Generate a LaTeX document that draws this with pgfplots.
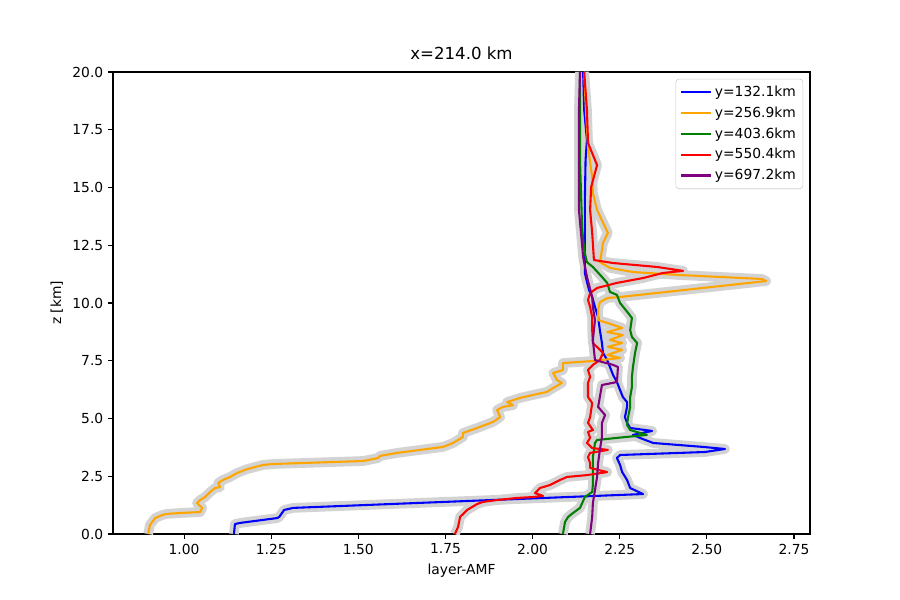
\documentclass[border=0pt]{standalone}
\usepackage{fontspec}
\setmainfont{DejaVu Sans}
\usepackage{pgfplots}
\pgfplotsset{compat=1.18}
\usepackage{pgfplotstable}

\definecolor{mblue}{RGB}{0,0,255}
\definecolor{morange}{RGB}{255,165,0}
\definecolor{mgreen}{RGB}{0,128,0}
\definecolor{mred}{RGB}{255,0,0}
\definecolor{mpurple}{RGB}{128,0,128}
\definecolor{band}{RGB}{211,211,211}

% layer-AMF profiles, columns: AMF, altitude (km)
\pgfplotstableread{
x z
1.143 0
1.146 0.43
1.161 0.48
1.267 0.69
1.273 0.74
1.287 1.04
1.313 1.13
2.317 1.73
2.280 1.99
2.271 2.34
2.257 2.68
2.251 2.99
2.242 3.29
2.251 3.42
2.495 3.55
2.552 3.68
2.489 3.77
2.346 3.94
2.308 4.16
2.288 4.29
2.343 4.46
2.280 4.59
2.271 4.81
2.265 5.06
2.271 5.50
2.271 5.71
2.259 5.93
2.251 6.23
2.242 6.58
2.231 6.88
2.222 7.23
2.214 7.53
2.202 7.84
2.199 8.27
2.193 8.83
2.188 9.39
2.179 9.83
2.171 10.26
2.162 10.56
2.156 10.91
2.150 11.30
2.150 11.86
2.150 14.46
2.152 16.19
2.156 17.06
2.148 18.35
2.145 20
}\tblue

\pgfplotstableread{
x z
0.897 0
0.902 0.39
0.917 0.69
0.937 0.82
0.951 0.87
0.989 0.91
1.046 0.95
1.052 1.13
1.037 1.34
1.046 1.47
1.060 1.60
1.075 1.82
1.089 1.99
1.103 2.03
1.098 2.21
1.112 2.34
1.132 2.47
1.152 2.64
1.181 2.81
1.227 2.99
1.255 3.03
1.514 3.16
1.557 3.29
1.562 3.38
1.611 3.51
1.743 3.77
1.772 3.94
1.786 4.07
1.800 4.20
1.800 4.37
1.841 4.59
1.886 4.85
1.907 5.06
1.898 5.37
1.915 5.50
1.944 5.58
1.927 5.71
1.964 5.89
2.001 6.02
2.041 6.15
2.059 6.32
2.084 6.54
2.070 6.67
2.059 6.97
2.087 7.10
2.087 7.40
2.173 7.49
2.251 7.62
2.214 7.75
2.257 7.97
2.216 8.10
2.257 8.27
2.222 8.40
2.259 8.61
2.214 8.74
2.257 8.92
2.216 9.13
2.188 9.26
2.188 9.70
2.193 10.04
2.216 10.22
2.251 10.26
2.670 10.95
2.658 11.04
2.423 11.21
2.288 11.34
2.222 11.52
2.193 11.77
2.196 11.99
2.202 12.60
2.216 13.03
2.185 14.03
2.173 14.76
2.171 15.45
2.159 16.75
2.153 18.35
2.148 20
}\torange

\pgfplotstableread{
x z
2.087 0
2.093 0.52
2.102 0.74
2.116 0.91
2.136 1.13
2.150 1.60
2.171 1.82
2.173 2.12
2.173 2.77
2.173 3.33
2.179 3.94
2.185 4.07
2.242 4.16
2.328 4.29
2.280 4.50
2.271 4.72
2.274 5.06
2.280 5.50
2.280 5.93
2.285 6.36
2.285 6.80
2.288 7.23
2.294 7.84
2.300 8.27
2.285 8.53
2.280 8.83
2.285 9.35
2.274 9.57
2.251 10.00
2.242 10.35
2.222 10.48
2.214 10.87
2.199 11.13
2.173 11.56
2.156 11.77
2.150 12.16
2.145 12.73
2.142 13.29
2.136 16.19
2.136 20
}\tgreen

\pgfplotstableread{
x z
1.777 0
1.786 0.30
1.792 0.74
1.812 1.04
1.841 1.30
1.858 1.39
1.898 1.47
1.955 1.56
2.001 1.60
2.030 1.65
2.007 1.77
2.021 1.99
2.050 2.12
2.079 2.34
2.099 2.47
2.156 2.55
2.214 2.68
2.165 2.86
2.165 3.07
2.159 3.33
2.165 3.51
2.216 3.64
2.171 3.72
2.156 3.94
2.165 4.16
2.159 4.42
2.173 4.50
2.159 4.81
2.165 5.06
2.171 5.67
2.159 5.93
2.159 6.54
2.165 6.80
2.159 7.10
2.173 7.32
2.193 7.53
2.202 7.84
2.188 8.05
2.173 8.27
2.171 8.83
2.171 9.39
2.165 9.83
2.159 10.13
2.165 10.43
2.185 10.65
2.242 10.87
2.317 11.08
2.374 11.30
2.432 11.39
2.357 11.56
2.231 11.73
2.176 11.86
2.171 13.03
2.165 14.03
2.168 15.02
2.185 15.97
2.159 16.93
2.156 18.35
2.148 20
}\tred

\pgfplotstableread{
x z
2.165 0
2.171 0.74
2.173 1.34
2.179 1.90
2.185 2.47
2.188 3.07
2.193 3.64
2.199 4.20
2.199 4.81
2.208 5.15
2.188 5.50
2.193 5.93
2.199 6.45
2.242 6.58
2.245 7.23
2.231 7.32
2.179 7.53
2.173 8.40
2.179 9.26
2.173 9.83
2.171 10.26
2.156 11.13
2.145 11.99
2.133 14.03
2.133 18.35
2.136 20
}\tpurple

\begin{document}
\begin{tikzpicture}
\begin{axis}[
  scale only axis,
  width=501.84bp, height=332.64bp,
  xmin=0.796, xmax=2.796, ymin=0, ymax=20,
  xtick={1,1.25,1.5,1.75,2,2.25,2.5,2.75},
  ytick={0,2.5,5,7.5,10,12.5,15,17.5,20},
  xticklabel style={/pgf/number format/.cd,fixed,fixed zerofill,precision=2},
  yticklabel style={/pgf/number format/.cd,fixed,fixed zerofill,precision=1},
  /pgf/number format/assume math mode=true,
  tick align=outside, tick pos=left,
  major tick length=3.5bp,
  tick style={black, line width=0.8bp},
  axis line style={line width=0.8bp},
  title={x=214.0 km},
  title style={font=\fontsize{12}{14}\selectfont, yshift=-1bp},
  xlabel={layer-AMF}, ylabel={z [km]},
  legend style={at={(1,1)}, anchor=north east, xshift=-5bp, yshift=-5bp,
    draw={rgb,255:red,204;green,204;blue,204}, rounded corners=2pt,
    fill=white, fill opacity=0.8, text opacity=1,
    font=\fontsize{10}{12}\selectfont, row sep=1.9bp,
    inner xsep=3bp, inner ysep=3bp},
  legend cell align=left,
  legend image code/.code={\draw[#1, line width=1.5bp] (0bp,0bp) -- (21.6bp,0bp);},
  every axis plot/.append style={line width=1.5bp, line join=round},
]
\addplot[band, line width=7bp, forget plot] table[x=x,y=z] {\tblue};
\addplot[band, line width=7bp, forget plot] table[x=x,y=z] {\torange};
\addplot[band, line width=7bp, forget plot] table[x=x,y=z] {\tgreen};
\addplot[band, line width=7bp, forget plot] table[x=x,y=z] {\tred};
\addplot[band, line width=7bp, forget plot] table[x=x,y=z] {\tpurple};
\addplot[mblue] table[x=x,y=z] {\tblue};
\addlegendentry{y=132.1km}
\addplot[morange] table[x=x,y=z] {\torange};
\addlegendentry{y=256.9km}
\addplot[mgreen] table[x=x,y=z] {\tgreen};
\addlegendentry{y=403.6km}
\addplot[mred] table[x=x,y=z] {\tred};
\addlegendentry{y=550.4km}
\addplot[mpurple] table[x=x,y=z] {\tpurple};
\addlegendentry{y=697.2km}
\end{axis}
\path ([xshift=-81.36bp,yshift=-47.52bp]current axis.south west)
  rectangle ([xshift=64.8bp,yshift=51.84bp]current axis.north east);
\end{tikzpicture}
\end{document}
